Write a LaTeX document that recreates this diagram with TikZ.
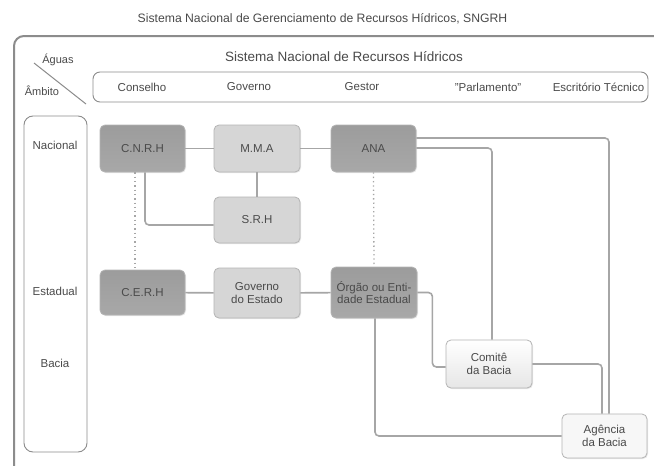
\documentclass[tikz,border=0pt]{standalone}
\usepackage{fontspec}
\setmainfont{Liberation Sans}
\usetikzlibrary{shadows}
\definecolor{txt}{HTML}{4A4A4A}
\definecolor{lnc}{HTML}{A6A6A6}
\definecolor{frm}{HTML}{8C8C8C}
\definecolor{bord}{HTML}{B4B4B4}
\definecolor{darkf}{HTML}{A8A8A8}
\definecolor{darkt}{HTML}{9C9C9C}
\definecolor{lightf}{HTML}{D6D6D6}
\definecolor{palef}{HTML}{E6E6E6}
\definecolor{whitef}{HTML}{F7F7F7}
\tikzset{
  orgbox/.style={draw=bord, line width=0.8pt, rounded corners=5pt, align=center,
    text=txt, font=\fontsize{11.5}{12.5}\selectfont, inner sep=1pt,
    drop shadow={opacity=0.18, shadow xshift=1pt, shadow yshift=-1pt}},
  darkbox/.style={orgbox, top color=darkt, bottom color=darkf},
  lightbox/.style={orgbox, fill=lightf},
  palebox/.style={orgbox, top color=white, bottom color=palef},
  whitebox/.style={orgbox, fill=whitef},
  link/.style={draw=lnc, line width=1.6pt, rounded corners=4pt},
  dotlink/.style={draw=lnc, line width=1.3pt, dash pattern=on 1.3pt off 3pt},
  lbl/.style={text=txt, font=\fontsize{11.5}{12.5}\selectfont, inner sep=0pt},
}
\begin{document}
\begin{tikzpicture}[x=1pt, y=-1pt]
\useasboundingbox[fill=white] (0,0) rectangle (654,466);
% title
\node[lbl, font=\fontsize{12.2}{13}\selectfont] (title) at (322.5,19) {Sistema Nacional de Gerenciamento de Recursos Hídricos, SNGRH};
% outer frame
\draw[frm, line width=2pt, rounded corners=10pt] (14,467) -- (14,36) -- (656,36);
% corner labels
\node[lbl, font=\fontsize{11}{12}\selectfont] (aguas) at (58,60) {Águas};
\node[lbl, font=\fontsize{11}{12}\selectfont] (ambito) at (42,91) {Âmbito};
\coordinate (d1) at (34,63);
\coordinate (d2) at (86,104);
\draw[frm, line width=1pt] (d1) -- (d2);
% subtitle
\node[lbl, font=\fontsize{13.5}{14}\selectfont] (sub) at (344,57) {Sistema Nacional de Recursos Hídricos};
% header box
\draw[frm, line width=0.9pt, rounded corners=7pt] (93,72) rectangle (648,102);
\node[lbl] (h1) at (142,87) {Conselho};
\node[lbl] (h2) at (249,87) {Governo};
\node[lbl] (h3) at (362,87) {Gestor};
\node[lbl] (h4) at (488,87) {"Parlamento"};
\node[lbl] (h5) at (598.5,87) {Escritório Técnico};
% left column
\draw[frm, line width=0.9pt, rounded corners=9pt] (24,116) rectangle (87,452);
\node[lbl] (lnac) at (55,145) {Nacional};
\node[lbl] (lest) at (55,291) {Estadual};
\node[lbl] (lbac) at (55,363) {Bacia};
% boxes
\node[darkbox, minimum width=85pt, minimum height=47pt] (cnrh) at (142.5,148.5) {C.N.R.H};
\node[lightbox, minimum width=86pt, minimum height=47pt] (mma) at (257,148.5) {M.M.A};
\node[darkbox, minimum width=85pt, minimum height=47pt] (ana) at (373.5,148.5) {ANA};
\node[lightbox, minimum width=86pt, minimum height=46pt] (srh) at (257,220) {S.R.H};
\node[darkbox, minimum width=85pt, minimum height=45pt] (cerh) at (142.5,292.5) {C.E.R.H};
\node[lightbox, minimum width=86pt, minimum height=50pt] (gov) at (257,293) {Governo\\do Estado};
\node[darkbox, minimum width=86pt, minimum height=51pt] (org) at (374,292.5) {Órgão ou Enti-\\dade Estadual};
\node[palebox, minimum width=86pt, minimum height=48pt] (com) at (489,364) {Comitê\\da Bacia};
\node[whitebox, minimum width=85pt, minimum height=44pt] (age) at (604.5,436) {Agência\\da Bacia};
% connectors
\draw[link] (cnrh) -- (mma);
\draw[link] (mma) -- (ana);
\draw[link] (mma) -- (srh);
\draw[link] ([xshift=2.5pt]cnrh.south) |- ([yshift=-5pt]srh.west);
\draw[dotlink] ([xshift=-7.5pt]cnrh.south) -- ([xshift=-7.5pt]cerh.north);
\draw[dotlink] (ana.south) -- (org.north);
\draw[link] (cerh) -- (gov);
\draw[link] (gov) -- (org);
\draw[link] ([yshift=10.5pt]ana.east) -| ([xshift=4.5pt]age.north);
\draw[link] ([yshift=0.5pt]ana.east) -| ([xshift=3pt]com.north);
\draw[link] (org.east) -- ++(15,0) |- ([yshift=-3pt]com.west);
\draw[link] (com.east) -| ([xshift=-2.5pt]age.north);
\draw[link] ([xshift=1pt]org.south) |- (age.west);
\end{tikzpicture}
\end{document}
